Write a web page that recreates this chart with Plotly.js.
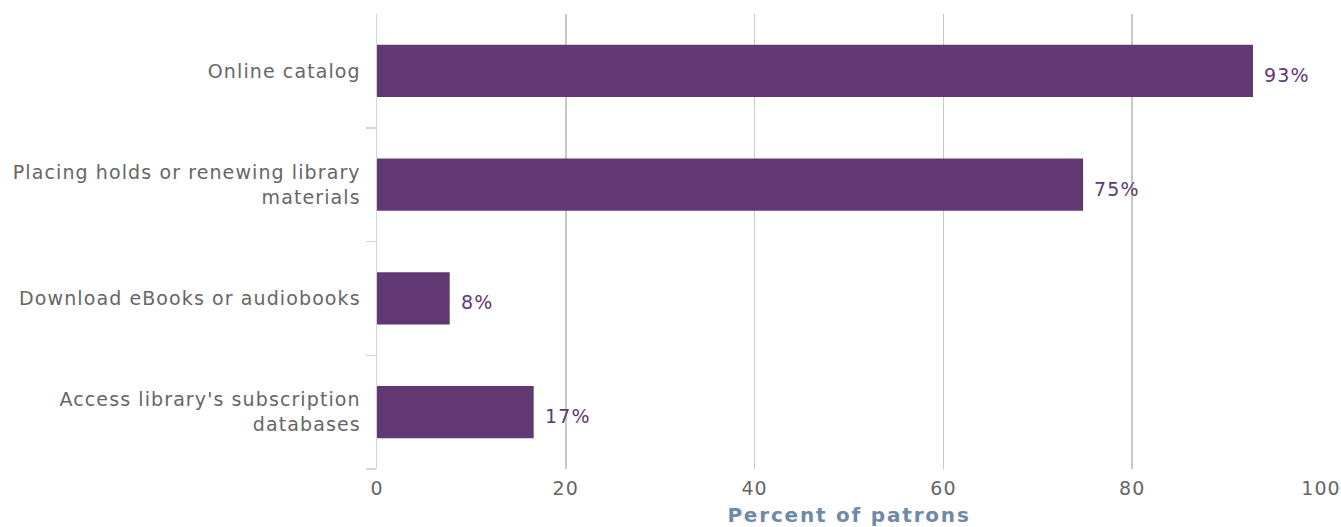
<!DOCTYPE html>
<html>
<head>
<meta charset="utf-8">
<script src="https://cdn.plot.ly/plotly-3.0.1.min.js"></script>
<style>
html,body{margin:0;padding:0;background:#fff;}
#chart{width:1341px;height:527px;}
.xtitle{letter-spacing:1.8px;}
.ytick text, .xtick text, .annotation-text{letter-spacing:1.1px;}
</style>
</head>
<body>
<div id="chart"></div>
<script>
const categories = [
  "Online catalog",
  "Placing holds or renewing library<br>materials",
  "Download eBooks or audiobooks",
  "Access library's subscription<br>databases"
];
const values = [92.8, 74.8, 7.7, 16.6];
const valueLabels = ["93%", "75%", "8%", "17%"];
const tickValsX = [0, 20, 40, 60, 80, 100];
const boundaryTicks = [0.5, 1.5, 2.5, 3.5];

const purple = "#613872";
const FONT = "DejaVu Sans";

const trace = {
  type: "bar",
  orientation: "h",
  x: values,
  y: categories,
  marker: {color: purple, line: {width: 0}},
  width: 0.46,
  hoverinfo: "x+y",
  cliponaxis: false
};

// empty helper trace to carry the boundary tick axis
const tickTrace = {
  type: "scatter", mode: "markers", x: [], y: [], yaxis: "y2",
  showlegend: false, hoverinfo: "skip"
};

const annotations = values.map((v, i) => ({
  x: v, y: categories[i], xref: "x", yref: "y",
  text: valueLabels[i], showarrow: false, xanchor: "left", xshift: 9, yshift: -4,
  font: {family: FONT, size: 19, color: purple}
}));

const layout = {
  width: 1341, height: 527,
  margin: {l: 377, r: 20, t: 14, b: 58},
  paper_bgcolor: "#fff", plot_bgcolor: "#fff",
  showlegend: false,
  font: {family: FONT, size: 19, color: "#666666"},
  xaxis: {
    range: [0, 100],
    tickvals: tickValsX,
    showgrid: true, gridcolor: "#c8c8c8", gridwidth: 1.5,
    zeroline: false, showline: false, ticks: "",
    ticklabelstandoff: 6,
    tickfont: {family: FONT, size: 19, color: "#666666"},
    title: {text: "<b>Percent of patrons</b>", standoff: 10,
            font: {family: FONT, size: 20, color: "#7089a5"}}
  },
  yaxis: {
    type: "category",
    range: [3.5, -0.5],
    showline: true, linecolor: "#ccd6eb", linewidth: 1.5,
    ticks: "",
    ticklabelstandoff: 11,
    showgrid: false, zeroline: false,
    tickfont: {family: FONT, size: 19, color: "#666666"}
  },
  yaxis2: {
    overlaying: "y", side: "left",
    range: [3.5, -0.5],
    tickvals: boundaryTicks,
    showticklabels: false,
    ticks: "outside", ticklen: 10, tickcolor: "#ccd6eb", tickwidth: 1.5,
    showline: false, showgrid: false, zeroline: false
  },
  annotations: annotations
};

Plotly.newPlot("chart", [trace, tickTrace], layout, {displayModeBar: false, staticPlot: true});
</script>
</body>
</html>
